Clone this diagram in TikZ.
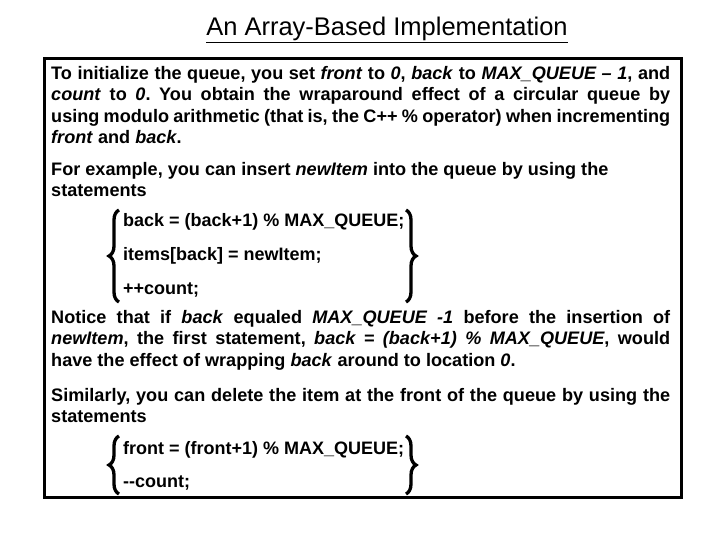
\documentclass[tikz,border=0pt]{standalone}
\usepackage{fontspec}
\setmainfont{Liberation Sans}
\frenchspacing
\usetikzlibrary{decorations.pathreplacing}
\begin{document}
\begin{tikzpicture}[x=1pt,y=-1pt,
  para/.style={anchor=north west,inner sep=0pt,text width=619pt,align=justify,font=\fontsize{18.1}{21.5}\selectfont\bfseries},
  code/.style={anchor=west,inner sep=0pt,font=\fontsize{18}{19}\selectfont\bfseries},
  brc/.style={decorate,decoration={brace,amplitude=10pt},line width=3.3pt}]
\useasboundingbox (0,0) rectangle (720,540);
\node (title) at (387,30) {\fontsize{25.5}{28}\selectfont\underline{An Array-Based Implementation}};
\node[draw,line width=3pt,minimum width=637pt,minimum height=439pt,anchor=north west,inner sep=0pt] (box) at (43,57) {};
\node[para] (p1) at (51,66) {To initialize the queue, you set \textit{front} to \textit{0}, \textit{back} to \textit{MAX\_QUEUE – 1}, and\linebreak \textit{count} to \textit{0}. You obtain the wraparound effect of a circular queue by\linebreak using modulo arithmetic (that is, the C++ \% operator) when incrementing\linebreak \textit{front} and \textit{back}.};
\node[para] (p2) at (51,162) {For example, you can insert \textit{newItem} into the queue by using the\newline statements};
\node[code] (c1) at (123,222) {back = (back+1) \% MAX\_QUEUE;};
\node[code] (c2) at (123,256) {items[back] = newItem;};
\node[code] (c3) at (123,290) {++count;};
\node[para] (p3) at (51,310) {Notice that if \textit{back} equaled \textit{MAX\_QUEUE -1} before the insertion of\linebreak \textit{newItem}, the first statement, \textit{back = (back+1) \% MAX\_QUEUE}, would\linebreak have the effect of wrapping \textit{back} around to location \textit{0}.};
\node[para] (p4) at (51,388) {Similarly, you can delete the item at the front of the queue by using the\linebreak statements};
\node[code] (d1) at (123,450) {front = (front+1) \% MAX\_QUEUE;};
\node[code] (d2) at (123,483) {-{}-count;};
\draw[brc] (119,302) -- (119,210);
\draw[brc] (406,210) -- (406,302);
\draw[brc] (119,494) -- (119,436);
\draw[brc] (406,436) -- (406,494);
\end{tikzpicture}
\end{document}
